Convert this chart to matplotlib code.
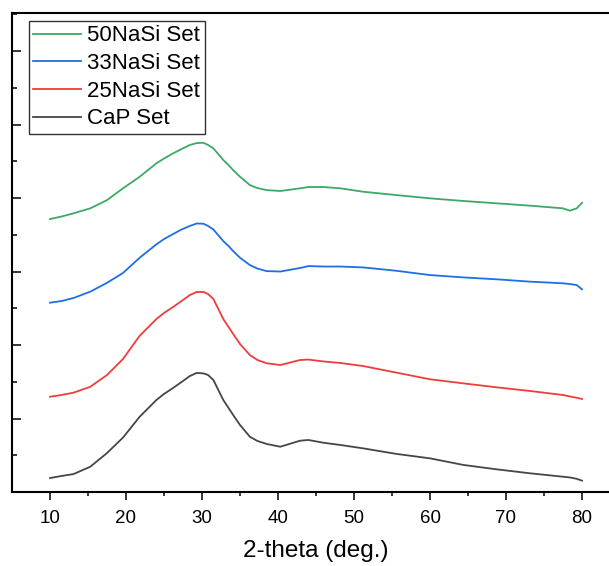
import numpy as np
import matplotlib
matplotlib.use('Agg')
import matplotlib.pyplot as plt

plt.rcParams['font.family'] = ['Liberation Sans', 'DejaVu Sans']

# 2-theta positions (deg.)
two_theta = [10, 11.5, 13.1, 15.3, 17.5, 19.6, 21.8, 24.0, 25.0, 26.2, 27.3, 28.4,
             29.3, 30.2, 30.8, 31.5, 32.8, 33.5, 34.1, 35.0, 36.3, 37.3, 38.5, 40.3,
             42.9, 44.0, 46.0, 48.2, 51.2, 55.6, 60.0, 64.4, 68.8, 73.2, 77.5, 78.4,
             79.3, 80.0]

# stacked intensities (a.u., offsets already included)
nasi50 = [1857, 1874, 1896, 1930, 1986, 2066, 2145, 2236, 2269, 2304, 2333, 2361,
          2374, 2376, 2361, 2338, 2259, 2224, 2190, 2145, 2088, 2068, 2054, 2048,
          2066, 2075, 2075, 2066, 2043, 2020, 1998, 1980, 1964, 1948, 1930, 1914,
          1930, 1968]
nasi33 = [1288, 1299, 1320, 1363, 1423, 1490, 1594, 1685, 1721, 1755, 1786, 1810,
          1827, 1825, 1810, 1786, 1707, 1673, 1639, 1594, 1544, 1520, 1503, 1500,
          1524, 1537, 1534, 1534, 1528, 1505, 1476, 1460, 1447, 1431, 1420, 1415,
          1408, 1379]
nasi25 = [648, 660, 676, 716, 796, 905, 1063, 1177, 1218, 1259, 1299, 1340,
          1361, 1361, 1347, 1313, 1177, 1122, 1075, 1007, 932, 898, 876, 864,
          898, 901, 888, 878, 857, 812, 767, 739, 712, 687, 660, 650,
          641, 633]
cap = [95, 109, 122, 172, 265, 370, 512, 626, 667, 708, 748, 789,
       810, 807, 796, 762, 626, 571, 524, 456, 376, 347, 327, 308,
       349, 354, 335, 320, 297, 259, 229, 184, 154, 127, 104, 99,
       90, 77]

labels = ['50NaSi Set', '33NaSi Set', '25NaSi Set', 'CaP Set']
colors = ['#3CAA64', '#1E6EE6', '#F03C3C', '#464646']

fig = plt.figure(figsize=(6.09, 5.66), dpi=100)
ax = fig.add_axes([12 / 609, 74 / 566, 608 / 609, 479 / 566])

for ys, lab, c in zip([nasi50, nasi33, nasi25, cap], labels, colors):
    ax.plot(two_theta, ys, color=c, lw=1.3, label=lab)

ax.set_xlim(5, 85)
ax.set_ylim(0, 3259)
ax.set_xticks([10, 20, 30, 40, 50, 60, 70, 80])
ax.set_xticks(np.arange(15, 85, 10), minor=True)
ax.set_yticks(np.arange(0, 3300, 500))
ax.set_yticks(np.arange(250, 3300, 500), minor=True)
ax.set_yticklabels([])

ax.tick_params(axis='x', which='major', direction='out', length=5.5, width=1.1,
               labelsize=13.5, pad=7.5)
ax.tick_params(axis='x', which='minor', direction='out', length=3, width=1.1)
ax.tick_params(axis='y', which='major', direction='in', length=6.5, width=1.1)
ax.tick_params(axis='y', which='minor', direction='in', length=3.3, width=1.1)
for s in ['left', 'bottom', 'top']:
    ax.spines[s].set_linewidth(1.5)
ax.spines['right'].set_visible(False)

ax.set_xlabel('2-theta (deg.)', fontsize=17.5, labelpad=9)

leg = ax.legend(loc='upper left', bbox_to_anchor=(29 / 609, 1 - 21 / 566),
                bbox_transform=fig.transFigure, borderaxespad=0, fontsize=16,
                frameon=True, fancybox=False, edgecolor='black', handlelength=2.15,
                handletextpad=0.27, labelspacing=0.3, borderpad=0.2)
leg.get_frame().set_linewidth(1.0)

fig.savefig('out.png', dpi=100)
